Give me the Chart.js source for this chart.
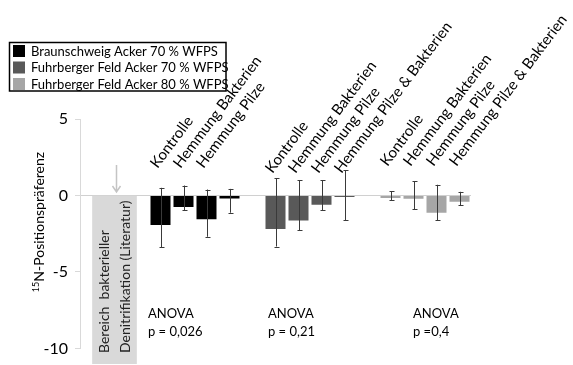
<!DOCTYPE html>
<html>
<head>
<meta charset="utf-8">
<script src="https://cdn.jsdelivr.net/npm/chart.js@4.4.1/dist/chart.umd.min.js"></script>
<style>
  html, body { margin: 0; padding: 0; background: #fff; }
  #chart { display: block; }
</style>
</head>
<body>
<canvas id="chart" width="573" height="365"></canvas>
<script>
// treatments and series
const treatments = ['Kontrolle', 'Hemmung Bakterien', 'Hemmung Pilze', 'Hemmung Pilze & Bakterien'];
const seriesNames = ['Braunschweig Acker 70 % WFPS', 'Fuhrberger Feld Acker 70 % WFPS', 'Fuhrberger Feld Acker 80 % WFPS'];
const seriesColors = ['#000000', '#595959', '#a6a6a6'];
const labelCount = [3, 4, 4]; // first group has no label on its 4th bar

// mean 15N site preference
const bsMean = [-1.93, -0.76, -1.56, -0.2];
const ff70Mean = [-2.2, -1.63, -0.6, -0.1];
const ff80Mean = [-0.17, -0.22, -1.13, -0.41];

// error bar ends (top / bottom)
const bsErrTop = [0.5, 0.65, 0.39, 0.43];
const bsErrBottom = [-3.4, -0.98, -2.7, -1.13];
const ff70ErrTop = [1.13, 1.0, 1.0, 1.65];
const ff70ErrBottom = [-3.34, -2.28, -0.96, -1.61];
const ff80ErrTop = [0.28, 0.93, 0.7, 0.24];
const ff80ErrBottom = [-0.3, -0.91, -1.61, -0.63];

// literature range of bacterial denitrification
const litRange = [0, -11];
const litText = ['Bereich  bakterieller', 'Denitrifikation (Literatur)'];

const anovaText = ['p = 0,026', 'p = 0,21', 'p =0,4'];
const yMin = -10, yMax = 5, yStep = 5;

const FONT = 'Lato, "Open Sans", sans-serif';

// slots on the category axis: gap, literature, gap, group, gap, group, gap, group
const groupStart = [3, 8, 13];
const slotCount = 17;
const litSlot = 1;
const slots = Array.from({length: slotCount}, (_, i) => 'slot' + i);

function placeGroup(values, g) {
    const arr = new Array(slotCount).fill(null);
    values.forEach((v, i) => { arr[groupStart[g] + i] = v; });
    return arr;
}

const means = [bsMean, ff70Mean, ff80Mean];
const errTops = [bsErrTop, ff70ErrTop, ff80ErrTop];
const errBottoms = [bsErrBottom, ff70ErrBottom, ff80ErrBottom];

const litData = new Array(slotCount).fill(null);
litData[litSlot] = litRange;

const datasets = [{
    label: 'Literatur',
    data: litData,
    backgroundColor: '#d9d9d9',
    barThickness: 44,
    grouped: false,
    clip: false
}];
means.forEach((m, g) => {
    datasets.push({
        label: seriesNames[g],
        data: placeGroup(m, g),
        backgroundColor: seriesColors[g],
        grouped: false,
        categoryPercentage: 1,
        barPercentage: 20 / 23
    });
});

const extras = {
    id: 'extras',
    afterDatasetsDraw(chart) {
        const ctx = chart.ctx;
        const x = chart.scales.x, y = chart.scales.y;
        ctx.save();

        // error bars
        ctx.strokeStyle = '#3a3a3a';
        ctx.lineWidth = 1;
        means.forEach((m, g) => {
            m.forEach((v, i) => {
                const px = Math.round(x.getPixelForValue(groupStart[g] + i)) + 0.5;
                const top = y.getPixelForValue(errTops[g][i]);
                const bot = y.getPixelForValue(errBottoms[g][i]);
                ctx.beginPath();
                ctx.moveTo(px, top); ctx.lineTo(px, bot);
                ctx.moveTo(px - 2, Math.round(top) + 0.5); ctx.lineTo(px + 3, Math.round(top) + 0.5);
                ctx.moveTo(px - 2, Math.round(bot) + 0.5); ctx.lineTo(px + 3, Math.round(bot) + 0.5);
                ctx.stroke();
            });
        });

        // arrow above literature bar
        const ax = Math.round(x.getPixelForValue(litSlot)) + 1.5;
        ctx.strokeStyle = '#c4c4c4';
        ctx.lineWidth = 1.5;
        ctx.beginPath();
        ctx.moveTo(ax, 165); ctx.lineTo(ax, 192);
        ctx.moveTo(ax - 4, 186); ctx.lineTo(ax, 192); ctx.lineTo(ax + 4, 186);
        ctx.stroke();

        // literature text inside the bar
        ctx.fillStyle = '#222';
        ctx.font = '14px ' + FONT;
        ctx.textAlign = 'left';
        ctx.textBaseline = 'alphabetic';
        const lx = x.getPixelForValue(litSlot);
        [lx - 6, lx + 15].forEach((bx, k) => {
            ctx.save();
            ctx.translate(bx, 353);
            ctx.rotate(-Math.PI / 2);
            ctx.fillText(litText[k], 0, 0);
            ctx.restore();
        });

        // treatment labels above the bars
        ctx.fillStyle = '#000';
        ctx.font = '15px ' + FONT;
        const labelY = [169, 174, 167];
        groupStart.forEach((s, g) => {
            for (let i = 0; i < labelCount[g]; i++) {
                const px = x.getPixelForValue(s + i);
                ctx.save();
                ctx.translate(px - 3, labelY[g]);
                ctx.rotate(-53 * Math.PI / 180);
                ctx.fillText(treatments[i], 0, 0);
                ctx.restore();
            }
        });

        // ANOVA results
        ctx.font = '13px ' + FONT;
        ctx.textBaseline = 'middle';
        const anovaX = [148, 268, 413];
        anovaText.forEach((t, g) => {
            ctx.fillText('ANOVA', anovaX[g], y.getPixelForValue(-7.75));
            ctx.fillText(t, anovaX[g], y.getPixelForValue(-8.9));
        });

        // y axis title with superscript
        ctx.save();
        ctx.translate(44, 222);
        ctx.rotate(-Math.PI / 2);
        ctx.textBaseline = 'alphabetic';
        ctx.font = '9px ' + FONT;
        const sup = '15';
        const supW = ctx.measureText(sup).width;
        ctx.font = '14px ' + FONT;
        const main = 'N-Positionspräferenz';
        const mainW = ctx.measureText(main).width;
        const start = -(supW + mainW) / 2;
        ctx.font = '9px ' + FONT;
        ctx.fillText(sup, start, -5);
        ctx.font = '14px ' + FONT;
        ctx.fillText(main, start + supW, 0);
        ctx.restore();

        // legend
        ctx.strokeStyle = '#000';
        ctx.lineWidth = 1.5;
        ctx.strokeRect(9.5, 42.5, 216.5, 48.5);
        ctx.font = '13px ' + FONT;
        ctx.textBaseline = 'middle';
        seriesNames.forEach((n, i) => {
            const ry = 45 + i * 16.5;
            ctx.fillStyle = seriesColors[i];
            ctx.fillRect(13, ry, 12, 12);
            ctx.fillStyle = '#000';
            ctx.fillText(n, 31, ry + 6.5);
        });

        ctx.restore();
    }
};

new Chart(document.getElementById('chart'), {
    type: 'bar',
    data: { labels: slots, datasets: datasets },
    options: {
        responsive: false,
        devicePixelRatio: 1,
        animation: false,
        layout: { padding: { top: 119, right: 102, bottom: 16, left: 0 } },
        plugins: { legend: { display: false }, tooltip: { enabled: false } },
        scales: {
            x: { display: false, offset: true },
            y: {
                min: yMin,
                max: yMax,
                afterFit: s => { s.width = 80; },
                border: { display: true, color: '#d9d9d9' },
                grid: {
                    color: c => c.tick && c.tick.value === 0 ? '#d0d0d0' : 'rgba(0,0,0,0)',
                    tickColor: '#d9d9d9',
                    tickLength: 5
                },
                ticks: {
                    stepSize: yStep,
                    padding: 7,
                    color: '#000',
                    font: { family: FONT, size: 16 }
                }
            }
        }
    },
    plugins: [extras]
});
</script>
</body>
</html>
